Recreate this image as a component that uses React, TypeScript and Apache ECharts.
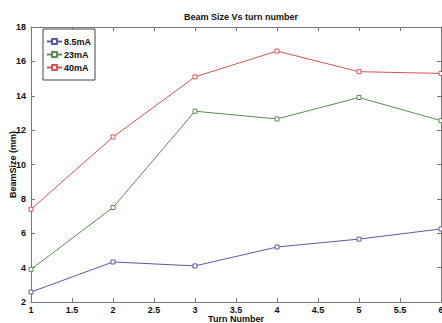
import React, { useEffect, useRef } from "react";
import * as echarts from "echarts";

const turns = [1, 2, 3, 4, 5, 6];
const seriesNames = ["8.5mA", "23mA", "40mA"];
const beam85 = [2.58, 4.33, 4.1, 5.2, 5.66, 6.25];
const beam23 = [3.9, 7.5, 13.1, 12.65, 13.9, 12.55];
const beam40 = [7.4, 11.6, 15.1, 16.6, 15.4, 15.3];
const colors = ["#5a5aa8", "#5b8c55", "#d45555"];

const FONT = "Liberation Sans, Arial, sans-serif";

export default function App() {
  const ref = useRef<HTMLDivElement>(null);
  useEffect(() => {
    if (!ref.current) return;
    const chart = echarts.init(ref.current, null, { renderer: "svg" });
    const values = [beam85, beam23, beam40];
    const axisLine = { show: true, lineStyle: { color: "#777", width: 1 } };
    const tick = { show: true, inside: true, length: 4, lineStyle: { color: "#777" } };
    const label = { color: "#111", fontWeight: "bold" as const, fontSize: 9, lineHeight: 8, fontFamily: FONT };
    chart.setOption({
      animation: false,
      backgroundColor: "#fff",
      title: {
        text: "Beam Size Vs turn number",
        left: 236,
        textAlign: "center",
        top: 7,
        textStyle: { fontSize: 9, fontWeight: "bold", color: "#111", fontFamily: FONT },
      },
      legend: {
        orient: "vertical",
        left: 43,
        top: 29,
        padding: [8, 4, 8, 3],
        itemGap: 4,
        itemWidth: 15,
        itemHeight: 6,
        borderColor: "#444",
        borderWidth: 1,
        backgroundColor: "#fff",
        textStyle: {
          fontSize: 9,
          lineHeight: 9,
          fontWeight: "bold",
          color: "#111",
          fontFamily: FONT,
          padding: [0, 0, 0, -3],
        },
        data: seriesNames,
      },
      grid: { left: 31, right: 1, top: 27, bottom: 21, outerBoundsMode: "none", containLabel: false },
      xAxis: [
        {
          type: "value",
          min: 1,
          max: 6,
          interval: 0.5,
          axisLine,
          axisTick: tick,
          axisLabel: { ...label, margin: 4 },
          splitLine: { show: false },
          name: "Turn Number",
          nameLocation: "middle",
          nameGap: 13,
          nameMoveOverlap: false,
          nameTextStyle: { ...label },
        },
        {
          type: "value",
          position: "top",
          min: 1,
          max: 6,
          interval: 0.5,
          axisLine,
          axisTick: tick,
          axisLabel: { show: false },
          splitLine: { show: false },
        },
      ],
      yAxis: [
        {
          type: "value",
          min: 2,
          max: 18,
          interval: 2,
          axisLine,
          axisTick: tick,
          axisLabel: { ...label, margin: 5 },
          splitLine: { show: false },
          name: "BeamSize (mm)",
          nameLocation: "middle",
          nameGap: 14,
          nameMoveOverlap: false,
          nameTextStyle: { ...label },
        },
        {
          type: "value",
          position: "right",
          min: 2,
          max: 18,
          interval: 2,
          axisLine,
          axisTick: tick,
          axisLabel: { show: false },
          splitLine: { show: false },
        },
      ],
      series: seriesNames.map((name, i) => ({
        name,
        type: "line",
        data: turns.map((t, j) => [t, values[i][j]]),
        color: colors[i],
        symbol: "rect",
        symbolSize: 4,
        showAllSymbol: true,
        lineStyle: { width: 1, color: colors[i] },
        itemStyle: { color: "#fff", borderColor: colors[i], borderWidth: 1 },
      })),
    });
    return () => chart.dispose();
  }, []);
  return <div ref={ref} style={{ width: 442, height: 323, position: "absolute", left: 0, top: 0 }} />;
}
